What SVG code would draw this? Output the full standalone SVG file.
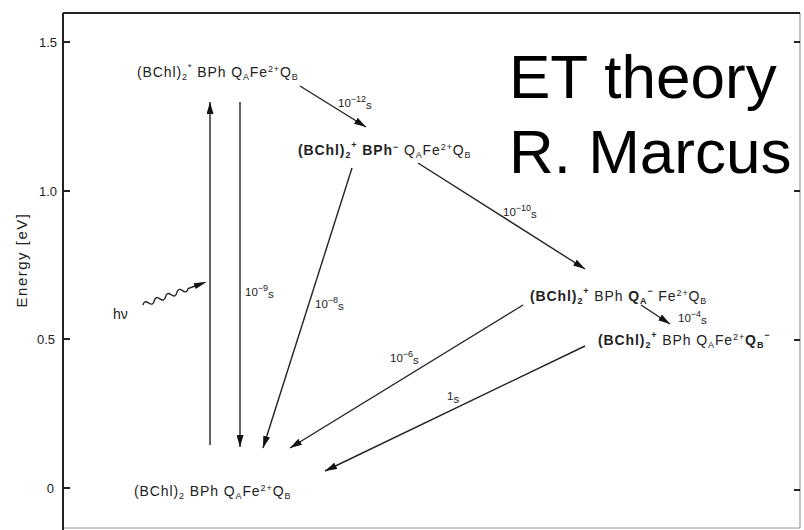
<svg xmlns="http://www.w3.org/2000/svg" width="804" height="530" viewBox="0 0 804 530">
<defs>
<style>
.frame{fill:none;stroke:#222;stroke-width:2}
.frame2{fill:none;stroke:#999;stroke-width:1.2}
.tick{stroke:#222;stroke-width:2}
.ax{font-family:"Liberation Sans",Arial,sans-serif;font-size:13px;fill:#222}
.chem{font-family:"Liberation Sans",Arial,sans-serif;font-size:14px;fill:#222;letter-spacing:0.9px}
.b{font-weight:bold}
.s{font-size:9px}
.lab{font-family:"Liberation Sans",Arial,sans-serif;font-size:11.5px;fill:#222}
.big{font-family:"Liberation Sans",Arial,sans-serif;font-size:62px;fill:#000}
.conn line{stroke:#222;stroke-width:1.4;marker-end:url(#ah)}
</style>
<marker id="ah" markerUnits="userSpaceOnUse" markerWidth="12" markerHeight="7" refX="12" refY="3.5" orient="auto">
<path d="M0,0 L12,3.5 L0,7 z" fill="#111"/>
</marker>
</defs>
<rect width="804" height="530" fill="#fff"/>

<g id="axes">
<line class="frame2" x1="800" y1="13" x2="800" y2="528"/>
<line class="frame2" x1="63" y1="528" x2="800" y2="528"/>
<line class="frame" x1="63" y1="13" x2="800" y2="13"/>
<line class="frame" x1="63" y1="13" x2="63" y2="530"/>
<line class="tick" x1="63" y1="42" x2="70" y2="42"/>
<line class="tick" x1="63" y1="191" x2="70" y2="191"/>
<line class="tick" x1="63" y1="339" x2="70" y2="339"/>
<line class="tick" x1="63" y1="488" x2="70" y2="488"/>
<line class="tick" x1="794" y1="42" x2="800" y2="42"/>
<line class="tick" x1="794" y1="191" x2="800" y2="191"/>
<line class="tick" x1="794" y1="340" x2="800" y2="340"/>
<line class="tick" x1="794" y1="490" x2="800" y2="490"/>
<text class="ax" x="57" y="47" text-anchor="end">1.5</text>
<text class="ax" x="57" y="196" text-anchor="end">1.0</text>
<text class="ax" x="55" y="344" text-anchor="end">0.5</text>
<text class="ax" x="54" y="493" text-anchor="end">0</text>
<text class="ax" transform="translate(27,260) rotate(-90)" text-anchor="middle" style="font-size:15px;letter-spacing:1.5px">Energy [eV]</text>
</g>

<g id="title">
<text class="big" x="509" y="98">ET theory</text>
<text class="big" x="509" y="173">R. Marcus</text>
</g>

<g id="n1">
<text class="chem" x="137" y="77">(BChl)<tspan class="s" dy="3">2</tspan><tspan class="s" dy="-10">*</tspan><tspan dy="7"> BPh Q</tspan><tspan class="s" dy="3">A</tspan><tspan dy="-3">Fe</tspan><tspan class="s" dy="-5">2+</tspan><tspan dy="5">Q</tspan><tspan class="s" dy="3">B</tspan></text>
</g>

<g id="n2">
<text class="chem" x="298" y="155"><tspan class="b">(BChl)</tspan><tspan class="s b" dy="3">2</tspan><tspan class="s b" dy="-10">+</tspan><tspan class="b" dy="7"> BPh</tspan><tspan class="s b" dy="-5">−</tspan><tspan dy="5"> Q</tspan><tspan class="s" dy="3">A</tspan><tspan dy="-3">Fe</tspan><tspan class="s" dy="-5">2+</tspan><tspan dy="5">Q</tspan><tspan class="s" dy="3">B</tspan></text>
</g>

<g id="n3">
<text class="chem" x="530" y="301"><tspan class="b">(BChl)</tspan><tspan class="s b" dy="3">2</tspan><tspan class="s b" dy="-10">+</tspan><tspan dy="7"> BPh </tspan><tspan class="b">Q</tspan><tspan class="s b" dy="3">A</tspan><tspan class="s b" dy="-10">−</tspan><tspan dy="7"> Fe</tspan><tspan class="s" dy="-5">2+</tspan><tspan dy="5">Q</tspan><tspan class="s" dy="3">B</tspan></text>
</g>

<g id="n4">
<text class="chem" x="598" y="345"><tspan class="b">(BChl)</tspan><tspan class="s b" dy="3">2</tspan><tspan class="s b" dy="-10">+</tspan><tspan dy="7"> BPh Q</tspan><tspan class="s" dy="3">A</tspan><tspan dy="-3">Fe</tspan><tspan class="s" dy="-5">2+</tspan><tspan class="b" dy="5">Q</tspan><tspan class="s b" dy="3">B</tspan><tspan class="s b" dy="-10">−</tspan></text>
</g>

<g id="n0">
<text class="chem" x="134" y="496">(BChl)<tspan class="s" dy="3">2</tspan><tspan dy="-3">  BPh Q</tspan><tspan class="s" dy="3">A</tspan><tspan dy="-3">Fe</tspan><tspan class="s" dy="-5">2+</tspan><tspan dy="5">Q</tspan><tspan class="s" dy="3">B</tspan></text>
</g>

<g id="hv">
<text class="lab" x="113" y="319" style="font-size:14px">hν</text>
<g transform="translate(143,305) rotate(-20)">
<path d="M0,0 q3,-4.5 6,0 t6,0 t6,0 t6,0 t6,0 t6,0 t6,0 t6,0 L57,0" fill="none" stroke="#222" stroke-width="1.4"/>
<path d="M55,-3 L68,0 L55,3 z" fill="#111"/>
</g>
</g>

<g id="connectors" class="conn">
<line x1="210" y1="445" x2="210" y2="102"/>
<line x1="240" y1="102" x2="240" y2="447"/>
<line x1="300" y1="86" x2="366" y2="127"/>
<line x1="418" y1="163" x2="585" y2="269"/>
<line x1="352" y1="168" x2="263" y2="448"/>
<line x1="641" y1="305" x2="670" y2="324"/>
<line x1="523" y1="305" x2="290" y2="448"/>
<line x1="585" y1="346" x2="325" y2="471"/>
</g>

<g id="labels">
<text class="lab" x="338" y="107">10<tspan class="s" dy="-5">−12</tspan><tspan dy="7">s</tspan></text>
<text class="lab" x="503" y="216">10<tspan class="s" dy="-5">−10</tspan><tspan dy="7">s</tspan></text>
<text class="lab" x="678" y="322">10<tspan class="s" dy="-5">−4</tspan><tspan dy="7">s</tspan></text>
<text class="lab" x="245" y="296">10<tspan class="s" dy="-5">−9</tspan><tspan dy="7">s</tspan></text>
<text class="lab" x="315" y="308">10<tspan class="s" dy="-5">−8</tspan><tspan dy="7">s</tspan></text>
<text class="lab" x="390" y="362">10<tspan class="s" dy="-5">−6</tspan><tspan dy="7">s</tspan></text>
<text class="lab" x="447" y="400">1<tspan dy="3">s</tspan></text>
</g>
</svg>
